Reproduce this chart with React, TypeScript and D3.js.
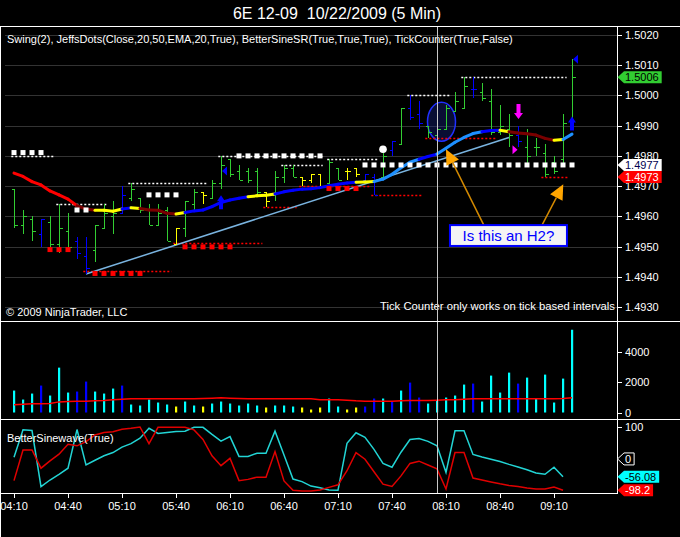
import React from 'react';
import * as d3 from 'd3';

// ---- data ----
const timeLabels = ['04:10', '04:40', '05:10', '05:40', '06:10', '06:40', '07:10', '07:40', '08:10', '08:40', '09:10'];
const priceTicks = [1.493, 1.494, 1.495, 1.496, 1.497, 1.498, 1.499, 1.5, 1.501, 1.502];
const volumeTicks = [0, 2000, 4000];
const sineTicks = [100];

const barOpen = [1.4969, 1.4957, 1.4959, 1.4954, 1.4958, 1.4951, 1.4955, 1.4952, 1.4947, 1.4949, 1.4956, 1.4960, 1.4961, 1.4966, 1.4966, 1.4962, 1.4957, 1.4962, 1.4951, 1.4956, 1.4964, 1.4968, 1.4966, 1.4971, 1.4979, 1.4975, 1.4975, 1.4975, 1.4968, 1.4967, 1.4973, 1.4976, 1.4973, 1.4972, 1.4974, 1.4971, 1.4976, 1.4975, 1.4976, 1.4972, 1.4973, 1.4973, 1.4982, 1.4984, 1.4996, 1.4994, 1.4990, 1.4987, 1.4989, 1.4995, 1.4996, 1.5002, 1.5001, 1.4998, 1.4988, 1.4989, 1.4987, 1.4983, 1.4983, 1.4981, 1.4978, 1.4979, 1.4991];
const barHigh = [1.4969, 1.4962, 1.4960, 1.4959, 1.4960, 1.4964, 1.4961, 1.4953, 1.4953, 1.4957, 1.4964, 1.4965, 1.4970, 1.4971, 1.4966, 1.4964, 1.4964, 1.4963, 1.4956, 1.4965, 1.4969, 1.4968, 1.4972, 1.4980, 1.4979, 1.4977, 1.4976, 1.4976, 1.4968, 1.4975, 1.4977, 1.4977, 1.4973, 1.4974, 1.4974, 1.4979, 1.4976, 1.4976, 1.4976, 1.4974, 1.4974, 1.4981, 1.4985, 1.4996, 1.5000, 1.4998, 1.4990, 1.4992, 1.4997, 1.5001, 1.5006, 1.5006, 1.5004, 1.5002, 1.4997, 1.4994, 1.4990, 1.4989, 1.4986, 1.4984, 1.4980, 1.4994, 1.5012];
const barLow = [1.4956, 1.4954, 1.4952, 1.4950, 1.4949, 1.4948, 1.4949, 1.4946, 1.4941, 1.4945, 1.4956, 1.4954, 1.4961, 1.4965, 1.4961, 1.4957, 1.4957, 1.4952, 1.4951, 1.4953, 1.4962, 1.4964, 1.4966, 1.4969, 1.4973, 1.4972, 1.4971, 1.4967, 1.4963, 1.4965, 1.4971, 1.4973, 1.4970, 1.4971, 1.4970, 1.4970, 1.4972, 1.4972, 1.4973, 1.4971, 1.4967, 1.4972, 1.4980, 1.4984, 1.4992, 1.4989, 1.4986, 1.4986, 1.4989, 1.4995, 1.4996, 1.4999, 1.4998, 1.4987, 1.4987, 1.4983, 1.4983, 1.4977, 1.4980, 1.4973, 1.4974, 1.4977, 1.4991];
const barClose = [1.4957, 1.4960, 1.4955, 1.4959, 1.4951, 1.4956, 1.4950, 1.4948, 1.4943, 1.4957, 1.4961, 1.4961, 1.4967, 1.4969, 1.4962, 1.4957, 1.4961, 1.4952, 1.4956, 1.4965, 1.4968, 1.4967, 1.4971, 1.4977, 1.4974, 1.4972, 1.4972, 1.4968, 1.4965, 1.4973, 1.4976, 1.4973, 1.4972, 1.4974, 1.4970, 1.4978, 1.4972, 1.4975, 1.4974, 1.4974, 1.4967, 1.4980, 1.4985, 1.4996, 1.4993, 1.4991, 1.4988, 1.4989, 1.4996, 1.4998, 1.5003, 1.5002, 1.4999, 1.4988, 1.4990, 1.4987, 1.4985, 1.4980, 1.4983, 1.4974, 1.4975, 1.4991, 1.5006];
// g = up-trend colour, b = down, y = neutral (same code colours price and volume bars)
const barColor = ('gggbgggbbgggbgggggyggyggggggygggyyygg' + 'yybbgbgbbgggggbggggbgggggg').split('');

const volume = [1445, 854, 1248, 1774, 1117, 2956, 1314, 1380, 2037, 1380, 1248, 1577, 1774, 526, 460, 854, 657, 526, 394, 723, 460, 394, 591, 723, 591, 460, 591, 460, 329, 460, 460, 394, 329, 197, 329, 920, 394, 197, 329, 394, 920, 920, 723, 1445, 1971, 985, 591, 788, 985, 1117, 1840, 1905, 723, 2431, 1314, 2628, 1905, 2300, 920, 2497, 657, 2234, 5453];
const volumeAvg = [506, 550, 572, 572, 590, 700, 726, 748, 748, 770, 792, 836, 880, 902, 902, 902, 902, 902, 902, 902, 902, 924, 946, 968, 946, 924, 902, 902, 902, 902, 902, 902, 902, 902, 836, 836, 836, 814, 770, 748, 748, 748, 748, 770, 792, 792, 792, 814, 836, 836, 880, 902, 902, 902, 902, 902, 902, 902, 902, 902, 902, 924, 968];

const jeffsLine = [1.49743, 1.49732, 1.49715, 1.49704, 1.49684, 1.49671, 1.49657, 1.49635, 1.49624, 1.4962, 1.4962, 1.49617, 1.49624, 1.49628, 1.49626, 1.49621, 1.4962, 1.4961, 1.49608, 1.49613, 1.49618, 1.49621, 1.49632, 1.49646, 1.49654, 1.4966, 1.49665, 1.49668, 1.4967, 1.49674, 1.49681, 1.49686, 1.4969, 1.49691, 1.49695, 1.49701, 1.49706, 1.4971, 1.49713, 1.49714, 1.49715, 1.49723, 1.49739, 1.49761, 1.49779, 1.49789, 1.49798, 1.49806, 1.49825, 1.49845, 1.49861, 1.49874, 1.4988, 1.49884, 1.49885, 1.4988, 1.49876, 1.49873, 1.49869, 1.49858, 1.49852, 1.49854, 1.49872];
const jeffsColor = ('R' + 'RRRRRRR' + 'DD' + 'YYY' + 'B' + 'Y' + 'DDDD' + 'Y' + 'BBBBBBB' + 'YYY' + 'BBBBBBBBB' + 'YY' + 'LLLLL' + 'BB' + 'LLLLL' + 'BB' + 'Y' + 'DDDDD' + 'Y' + 'L').split('');

const resistDots = [
  { from: 0, to: 3, price: 1.49811 },
  { from: 7, to: 8, price: 1.49621 },
  { from: 15, to: 18, price: 1.49671 },
  { from: 25, to: 34, price: 1.498 },
  { from: 39, to: 62, price: 1.4977 },
];
const supportDots = [
  { from: 4, to: 6, price: 1.4949 },
  { from: 9, to: 14, price: 1.49411 },
  { from: 19, to: 24, price: 1.49499 },
  { from: 35, to: 38, price: 1.49692 },
];
const resistLines = [
  { from: -0.3, to: 4.5, price: 1.498 },
  { from: 4.7, to: 10.4, price: 1.4964 },
  { from: 12.7, to: 21.4, price: 1.4971 },
  { from: 22.7, to: 34.3, price: 1.498 },
  { from: 29.7, to: 34.3, price: 1.4977 },
  { from: 34.8, to: 40.4, price: 1.49789 },
  { from: 43.7, to: 48.4, price: 1.5 },
  { from: 49.7, to: 61.4, price: 1.5006 },
];
const supportLines = [
  { from: 7.7, to: 17.5, price: 1.49418 },
  { from: 17.7, to: 27.6, price: 1.49511 },
  { from: 27.7, to: 31.4, price: 1.4963 },
  { from: 31.7, to: 39.6, price: 1.497 },
  { from: 39.7, to: 45.4, price: 1.4967 },
  { from: 45.7, to: 53.7, price: 1.49859 },
  { from: 58.6, to: 61.5, price: 1.4973 },
];
const swingHigh = [{ bar: 41, price: 1.49822 }];
const trendLine = [{ bar: 8, price: 1.49409 }, { bar: 55, price: 1.49861 }];
const blueUpArrows = [{ bar: 23, price: 1.4967 }, { bar: 62, price: 1.4993 }];
const blueLeftMarks = [{ bar: 23, price: 1.4975 }, { bar: 62, price: 1.5012 }];
const magentaDown = [{ bar: 56, price: 1.49922 }];
const magentaRight = [{ bar: 56, price: 1.4982 }];

const sineCyan = [5, 91, 89, -87, -66, -48, -29, 92, -19, -4, 10, 20, 37, 48, 65, 96, 80, 83, 86, 87, 99, 99, 77, 56, 70, 8, 8, 18, 18, 87, 12, -63, -71, -85, -90, -97, -98, 49, 82, 68, 30, -14, -26, 21, 61, 64, 55, 41, -42, 88, 88, 14, 6, -1, -8, -17, -25, -34, -44, -48, -26, -56.08];
const sineRed = [-68, 28, 28, -29, -6, 15, 46, 41, 54, 75, 83, 85, 93, 96, 100, 48, 99, 99, 99, 99, 91, 61, 10, -21, 2, -68, -64, -57, -57, 23, -69, -98, -100, -100, -97, -89, -81, -37, 20, -1, -40, -79, -86, -53, -14, -7, -19, -31, -94, 20, 20, -60, -66, -72, -78, -83, -86, -91, -94, -94, -88, -98.2];

// drawn annotations (bar index / price)
const ellipseNote = { bar: 47.5, price: 1.49913 };
const arrowNotes = [
  { tipBar: 48.0, tipPrice: 1.49822, tailBar: 52.2, tailPrice: 1.49571 },
  { tipBar: 61.03, tipPrice: 1.49706, tailBar: 58.67, tailPrice: 1.49571 },
];
const boxNote = { fromBar: 48.44, toBar: 61.44, top: 1.49571, bottom: 1.49502, text: 'Is this an H2?' };

const FONT = "Arial, 'Liberation Sans', sans-serif";
const barColorMap: Record<string, string> = { g: '#32cd32', b: '#0000ff', y: '#ffff00' };
const volColorMap: Record<string, string> = { g: '#00ffff', b: '#0000ff', y: '#ffff00' };
const lineColorMap: Record<string, string> = { R: '#ff0000', D: '#7a0000', Y: '#ffff00', B: '#0000ff', L: '#1e90ff' };

function textW(s: string) {
  let w = 0;
  for (const c of s) w += c === '.' ? 3.06 : c === '-' ? 3.66 : 6.12;
  return w;
}

function Tag({ y, text, fill, color, stroke }: { y: number; text: string; fill: string; color: string; stroke?: string }) {
  const x0 = 617.5, xa = 624, x1 = 624 + textW(text) + 4;
  const pts = `${x0},${y} ${xa},${y - 6} ${x1},${y - 6} ${x1},${y + 6} ${xa},${y + 6}`;
  return (
    <g>
      <polygon points={pts} fill={fill} stroke={stroke || 'none'} />
      <text x={xa + 1} y={y + 4} fill={color} fontSize={11}>{text}</text>
    </g>
  );
}

export default function App() {
  const n = barOpen.length;
  const x = d3.scaleLinear().domain([0, n - 1]).range([14, 572]);
  const yP = d3.scaleLinear().domain([1.493, 1.502]).range([307, 35]);
  const yV = d3.scaleLinear().domain([0, 4000]).range([412.5, 351.8]);
  const yS = d3.scaleLinear().domain([-98.2, 100]).range([490.3, 427]);
  const px = (i: number) => Math.round(x(i)) + 0.5;
  const py = (p: number) => Math.round(yP(p)) + 0.5;

  const sineLine = d3.line<number>().x((_, i) => x(i)).y(d => yS(d));
  const volLine = d3.line<number>().x((_, i) => x(i)).y(d => yV(d));

  const lastClose = barClose[n - 1];
  const resistLevel = resistDots[resistDots.length - 1].price;
  const supportLevel = supportLines[supportLines.length - 1].price;

  const orange = '#ffa500';

  return (
    <svg width={680} height={537} fontFamily={FONT} style={{ position: 'absolute', left: 0, top: 0 }}>
      <rect width={680} height={537} fill="#000" />

      {/* title & legends */}
      <text x={337} y={19} fill="#fff" fontSize={16} textAnchor="middle">{'6E 12-09\u00a0 10/22/2009 (5 Min)'}</text>

      {/* price grid */}
      {priceTicks.map(t => (
        <line key={'g' + t} x1={5} x2={617} y1={py(t)} y2={py(t)} stroke="#333" strokeWidth={1} />
      ))}

      {/* annotation ellipse */}
      <ellipse cx={x(ellipseNote.bar)} cy={yP(ellipseNote.price)} rx={14} ry={19.5}
        fill="rgba(25,40,150,0.35)" stroke="#2030ff" strokeWidth={1.5} />

      {/* dotted levels */}
      {resistLines.map((d, i) => (
        <line key={'rl' + i} x1={x(d.from)} x2={x(d.to)} y1={py(d.price)} y2={py(d.price)}
          stroke="#fff" strokeWidth={1.3} strokeDasharray="2,2" />
      ))}
      {supportLines.map((d, i) => (
        <line key={'sl' + i} x1={x(d.from)} x2={x(d.to)} y1={py(d.price)} y2={py(d.price)}
          stroke="#ff0000" strokeWidth={1.3} strokeDasharray="2,2" />
      ))}

      {/* trend line */}
      <line x1={x(trendLine[0].bar)} y1={yP(trendLine[0].price)} x2={x(trendLine[1].bar)} y2={yP(trendLine[1].price)}
        stroke="#7ab4e0" strokeWidth={1.5} />

      {/* OHLC bars */}
      {d3.range(n).map(i => {
        const c = barColorMap[barColor[i]];
        const xx = px(i);
        return (
          <g key={'b' + i} stroke={c} strokeWidth={1} shapeRendering="crispEdges">
            <line x1={xx} x2={xx} y1={yP(barHigh[i])} y2={yP(barLow[i])} />
            <line x1={xx - 3} x2={xx} y1={py(barOpen[i])} y2={py(barOpen[i])} />
            <line x1={xx} x2={xx + 3} y1={py(barClose[i])} y2={py(barClose[i])} />
          </g>
        );
      })}

      {/* JeffsDots moving average */}
      {d3.range(1, n).map(i => (
        <line key={'j' + i} x1={x(i - 1)} y1={yP(jeffsLine[i - 1])} x2={x(i)} y2={yP(jeffsLine[i])}
          stroke={lineColorMap[jeffsColor[i]]} strokeWidth={3} strokeLinecap="round" />
      ))}

      {/* dots */}
      {resistDots.flatMap((d, k) => d3.range(d.from, d.to + 1).map(i => (
        <rect key={'rd' + k + '-' + i} x={x(i) - 2.5} y={yP(d.price) - 2.5} width={5} height={5} fill="#fff" />
      )))}
      {supportDots.flatMap((d, k) => d3.range(d.from, d.to + 1).map(i => (
        <rect key={'sd' + k + '-' + i} x={x(i) - 2.5} y={yP(d.price) - 2.5} width={5} height={5} fill="#ff0000" />
      )))}
      {swingHigh.map((d, i) => (
        <circle key={'sw' + i} cx={x(d.bar)} cy={yP(d.price)} r={3.8} fill="#fff" />
      ))}

      {/* signal arrows */}
      {blueUpArrows.map((d, i) => {
        const cx = x(d.bar), t = yP(d.price);
        return <path key={'bu' + i} fill="#0000ff"
          d={`M${cx},${t} L${cx + 4},${t + 6} L${cx + 2},${t + 6} L${cx + 2},${t + 14} L${cx - 2},${t + 14} L${cx - 2},${t + 6} L${cx - 4},${t + 6} Z`} />;
      })}
      {blueLeftMarks.map((d, i) => {
        const cx = x(d.bar) + 1, cy = yP(d.price);
        return <path key={'bl' + i} fill="#0000ff" d={`M${cx},${cy} L${cx + 5},${cy - 4.5} L${cx + 5},${cy + 4.5} Z`} />;
      })}
      {magentaDown.map((d, i) => {
        const cx = x(d.bar) + 0.5, t = yP(d.price);
        return <path key={'md' + i} fill="#ff00ff"
          d={`M${cx},${t} L${cx + 4.5},${t - 6} L${cx + 2},${t - 6} L${cx + 2},${t - 15} L${cx - 2},${t - 15} L${cx - 2},${t - 6} L${cx - 4.5},${t - 6} Z`} />;
      })}
      {magentaRight.map((d, i) => {
        const cx = x(d.bar) - 0.5, cy = yP(d.price);
        return <path key={'mr' + i} fill="#ff00ff" d={`M${cx},${cy} L${cx - 5},${cy - 4.5} L${cx - 5},${cy + 4.5} Z`} />;
      })}

      {/* orange annotation arrows */}
      {arrowNotes.map((a, i) => {
        const tx = x(a.tipBar), ty = yP(a.tipPrice), sx = x(a.tailBar), sy = yP(a.tailPrice);
        const len = Math.hypot(tx - sx, ty - sy);
        const ux = (tx - sx) / len, uy = (ty - sy) / len;
        const bx = tx - ux * 15, by = ty - uy * 15;
        const head = `${tx},${ty} ${bx - uy * 7},${by + ux * 7} ${bx + uy * 7},${by - ux * 7}`;
        return (
          <g key={'oa' + i}>
            <line x1={sx} y1={sy} x2={bx} y2={by} stroke="#d48a00" strokeWidth={1.5} />
            <polygon points={head} fill={orange} />
          </g>
        );
      })}
      <rect x={x(boxNote.fromBar)} y={yP(boxNote.top)} width={x(boxNote.toBar) - x(boxNote.fromBar)}
        height={yP(boxNote.bottom) - yP(boxNote.top)} fill="#f4f4f4" stroke="#0000ff" strokeWidth={2} />
      <text x={(x(boxNote.fromBar) + x(boxNote.toBar)) / 2} y={yP((boxNote.top + boxNote.bottom) / 2) + 5.5}
        fill="#0000ff" fontSize={15} textAnchor="middle">{boxNote.text}</text>

      <text x={7} y={43} fill="#fff" fontSize={11}>Swing(2), JeffsDots(Close,20,50,EMA,20,True), BetterSineSR(True,True,True), TickCounter(True,False)</text>
      <text x={615} y={309.5} fill="#fff" fontSize={11.3} textAnchor="end">Tick Counter only works on tick based intervals</text>
      <text x={6} y={316} fill="#fff" fontSize={11}>© 2009 NinjaTrader, LLC</text>

      {/* volume panel */}
      {d3.range(n).map(i => (
        <rect key={'v' + i} x={x(i) - 1} y={yV(volume[i])} width={2.2} height={yV(0) - yV(volume[i])}
          fill={volColorMap[barColor[i]]} />
      ))}
      <path d={volLine(volumeAvg) || ''} fill="none" stroke="#ff0000" strokeWidth={1.5} />

      {/* sinewave panel */}
      <path d={sineLine(sineCyan) || ''} fill="none" stroke="#22d4d4" strokeWidth={1.5} />
      <path d={sineLine(sineRed) || ''} fill="none" stroke="#e00000" strokeWidth={1.5} />
      <text x={7} y={441.5} fill="#fff" fontSize={11}>BetterSinewave(True)</text>

      {/* crosshair */}
      <line x1={px(47)} x2={px(47)} y1={27} y2={493} stroke="#c8c8c8" strokeWidth={1} />

      {/* frames */}
      <g stroke="#fff" strokeWidth={1} shapeRendering="crispEdges">
        <line x1={0} x2={680} y1={26.5} y2={26.5} />
        <line x1={0} x2={680} y1={321.5} y2={321.5} />
        <line x1={0} x2={680} y1={419.5} y2={419.5} />
        <line x1={0} x2={617.5} y1={493.5} y2={493.5} />
        <line x1={617.5} x2={617.5} y1={26} y2={494} />
        <line x1={0.5} x2={0.5} y1={26} y2={537} />
      </g>

      {/* right axes */}
      {priceTicks.map(t => (
        <g key={'pt' + t}>
          <line x1={617} x2={622} y1={py(t)} y2={py(t)} stroke="#fff" />
          <text x={625} y={yP(t) + 4} fill="#fff" fontSize={11}>{t.toFixed(4)}</text>
        </g>
      ))}
      {volumeTicks.map(t => (
        <g key={'vt' + t}>
          <line x1={617} x2={622} y1={Math.round(yV(t)) + 0.5} y2={Math.round(yV(t)) + 0.5} stroke="#fff" />
          <text x={625} y={yV(t) + 4} fill="#fff" fontSize={11}>{t}</text>
        </g>
      ))}
      {sineTicks.map(t => (
        <g key={'st' + t}>
          <line x1={617} x2={622} y1={Math.round(yS(t)) + 0.5} y2={Math.round(yS(t)) + 0.5} stroke="#fff" />
          <text x={625} y={yS(t) + 4} fill="#fff" fontSize={11}>{t}</text>
        </g>
      ))}

      {/* value tags */}
      <Tag y={yP(lastClose)} text={lastClose.toFixed(4)} fill="#32cd32" color="#000" />
      <Tag y={yP(resistLevel)} text={resistLevel.toFixed(4)} fill="#fff" color="#000050" />
      <Tag y={yP(supportLevel)} text={supportLevel.toFixed(4)} fill="#ff0000" color="#fff" />
      <Tag y={yS(0)} text="0" fill="#000" color="#fff" stroke="#fff" />
      <Tag y={yS(sineCyan[sineCyan.length - 1])} text={String(sineCyan[sineCyan.length - 1])} fill="#00ffff" color="#000" />
      <Tag y={yS(sineRed[sineRed.length - 1])} text={String(sineRed[sineRed.length - 1])} fill="#ff0000" color="#fff" />

      {/* time axis */}
      {timeLabels.map((t, k) => (
        <g key={'x' + t}>
          <line x1={px(k * 6)} x2={px(k * 6)} y1={493} y2={498} stroke="#fff" />
          <text x={x(k * 6)} y={510} fill="#fff" fontSize={11} textAnchor="middle">{t}</text>
        </g>
      ))}
    </svg>
  );
}
